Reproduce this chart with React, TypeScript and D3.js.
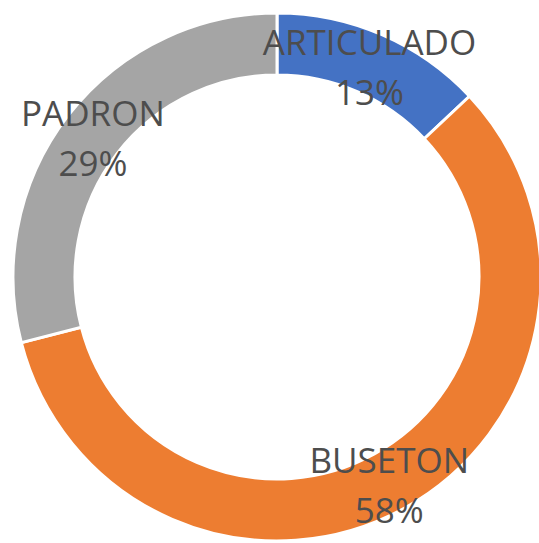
import React from 'react';
import * as d3 from 'd3';

const categories = ['ARTICULADO', 'BUSETON', 'PADRON'];
const values = [13, 58, 29];
const colors = ['#4472C4', '#ED7D31', '#A5A5A5'];

const width = 539;
const height = 543;

const App = () => {
  const cx = 277;
  const cy = 277;
  const outer = 264;
  const inner = 202;

  const pie = d3.pie<number>().sort(null).value(d => d);
  const arcs = pie(values);

  const arc = d3.arc<d3.PieArcDatum<number>>()
    .innerRadius(inner)
    .outerRadius(outer);

  const labelArc = d3.arc<d3.PieArcDatum<number>>()
    .innerRadius((inner + outer) / 2)
    .outerRadius((inner + outer) / 2);

  const total = d3.sum(values);
  const fmt = d3.format('.0%');

  return (
    <div style={{ position: 'absolute', left: 0, top: 0 }}>
      <svg width={width} height={height} style={{ display: 'block', background: '#fff' }}>
        <g transform={`translate(${cx},${cy})`}>
          {arcs.map((a, i) => (
            <path
              key={categories[i]}
              d={arc(a) || ''}
              fill={colors[i]}
              stroke="#fff"
              strokeWidth={3}
            />
          ))}
          {arcs.map((a, i) => {
            const [x, y] = labelArc.centroid(a);
            return (
              <text
                key={'l' + categories[i]}
                x={x}
                y={y}
                textAnchor="middle"
                fontFamily="'Open Sans', sans-serif"
                fontSize={35}
                fill="#4d4d4d"
              >
                <tspan x={x} dy={-8}>{categories[i]}</tspan>
                <tspan x={x} dy={50}>{fmt(values[i] / total)}</tspan>
              </text>
            );
          })}
        </g>
      </svg>
    </div>
  );
};

export default App;
